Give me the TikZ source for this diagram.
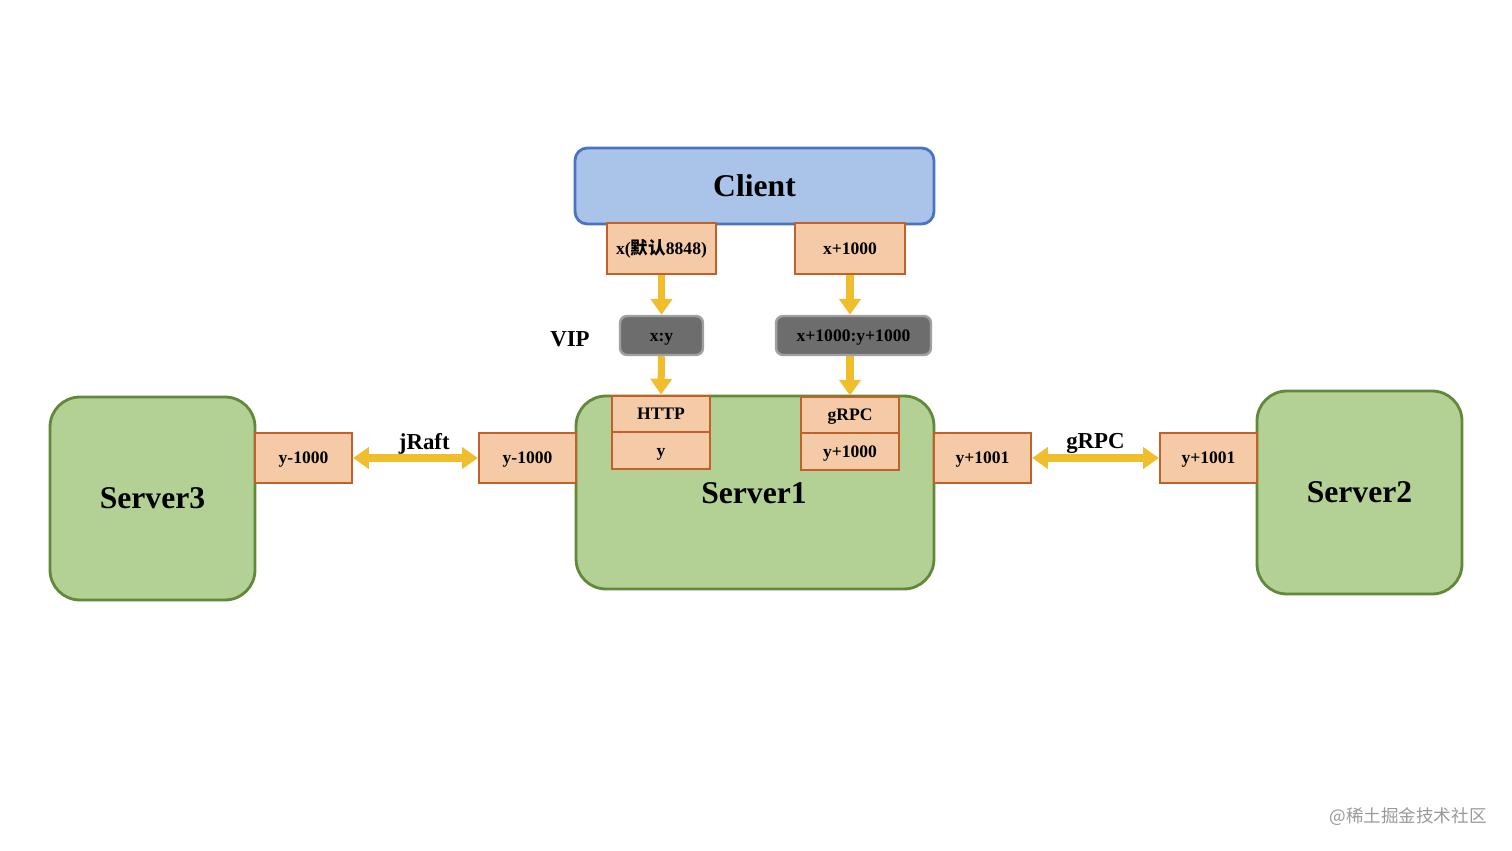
\documentclass[tikz,border=0pt]{standalone}
\usepackage{fontspec}
\setmainfont{Liberation Serif}
\newfontfamily\cjk{Noto Sans CJK SC}
\usetikzlibrary{arrows.meta}

\definecolor{clientfill}{HTML}{A9C4E8}
\definecolor{clientdraw}{HTML}{4B73C1}
\definecolor{portfill}{HTML}{F5CBA7}
\definecolor{portdraw}{HTML}{C2602A}
\definecolor{vipfill}{HTML}{6D6D6D}
\definecolor{vipdraw}{HTML}{A0A0A0}
\definecolor{srvfill}{HTML}{B3D194}
\definecolor{srvdraw}{HTML}{62883A}
\definecolor{flowcol}{HTML}{F0BE2C}

\begin{document}
\begin{tikzpicture}[
  x=0.02cm, y=-0.02cm,
  client/.style={draw=clientdraw, fill=clientfill, line width=1.6pt, rounded corners=7pt,
    minimum width=7.18cm, minimum height=1.52cm, font=\fontsize{18}{21}\selectfont\bfseries},
  srv/.style={draw=srvdraw, fill=srvfill, line width=1.6pt, rounded corners=17pt,
    minimum width=4.1cm, minimum height=4.06cm, font=\fontsize{18}{21}\selectfont\bfseries},
  port/.style={draw=portdraw, fill=portfill, line width=1.3pt, inner sep=0pt,
    text height=0.66em, text depth=0pt,
    minimum width=1.94cm, minimum height=1cm, font=\fontsize{10}{12}\selectfont\bfseries},
  sub/.style={port, minimum width=1.96cm, minimum height=0.73cm},
  vip/.style={draw=vipdraw, fill=vipfill, line width=1.4pt, rounded corners=4pt,
    text height=0.66em, text depth=0pt,
    minimum height=0.78cm, font=\fontsize{10}{12}\selectfont\bfseries},
  flow/.style={draw=flowcol, line width=4pt, -{Triangle[width=12pt,length=9pt]}},
  both/.style={{Triangle[width=12pt,length=9pt]}-{Triangle[width=12pt,length=9pt]}},
  lbl/.style={font=\fontsize{13}{15}\selectfont\bfseries}
]
\useasboundingbox (0,0) rectangle (1512,851);

% client and its ports
\node[client] (client) at (754.5,186) {Client};
\node[port, minimum width=2.18cm, minimum height=1.02cm] (cport1) at (661.5,248.5) {x({\cjk 默认}8848)};
\node[port, minimum width=2.2cm, minimum height=1.02cm] (cport2) at (850,248.5) {x+1000};

% vip
\node[vip, minimum width=1.66cm] (vip1) at (661.5,335.5) {x:y};
\node[vip, minimum width=3.1cm] (vip2) at (853.5,335.5) {x+1000:y+1000};
\node[lbl] (viplbl) at (570,339) {VIP};

% servers
\node[srv, minimum width=7.16cm, minimum height=3.86cm] (s1) at (755,492.5) {};
\node[srv] (s3) at (152.5,498.5) {Server3};
\node[srv] (s2) at (1359.5,492.5) {Server2};
\node[font=\fontsize{18}{21}\selectfont\bfseries] (s1lbl) at (754,493) {Server1};

% server1 ports
\node[sub] (http) at (661,414) {HTTP};
\node[sub] (httpy) at (661,450.5) {y};
\node[sub] (grpc) at (850,415) {gRPC};
\node[sub] (grpcy) at (850,451.5) {y+1000};

\node[port] (s1west) at (527.5,458) {y-1000};
\node[port] (s1east) at (982.5,458) {y+1001};
\node[port] (s3port) at (303.5,458) {y-1000};
\node[port] (s2port) at (1208.5,458) {y+1001};

% arrows
\draw[flow] (cport1.south) -- (vip1.north);
\draw[flow] (vip1.south) -- (http.north);
\draw[flow] (cport2.south) -- (cport2.south |- vip2.north);
\draw[flow] (cport2.south |- vip2.south) -- (grpc.north);

\draw[flow, both] (s3port.east) -- (s1west.west)
  node[lbl, midway, above=-3pt, xshift=5pt] {jRaft};
\draw[flow, both] (s1east.east) -- (s2port.west)
  node[lbl, midway, above=-3pt] {gRPC};

% watermark
\node[font=\cjk\fontsize{10}{12}\selectfont, text=black!40] (mark) at (1408,817) {@稀土掘金技术社区};
\end{tikzpicture}
\end{document}
